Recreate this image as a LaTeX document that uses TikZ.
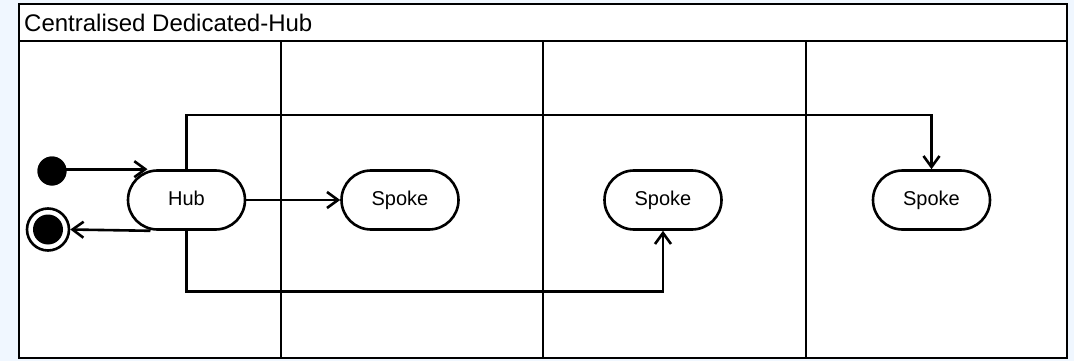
\documentclass[tikz,border=0pt]{standalone}
\usepackage{fontspec}
\setmainfont{Liberation Sans}
\usetikzlibrary{arrows.meta,calc}
\definecolor{bgblue}{RGB}{240,247,255}
\tikzset{
  lane/.style={draw=black,line width=2.6pt},
  action/.style={draw=black,line width=2.6pt,fill=white,rectangle,rounded corners=29.5pt,minimum width=117pt,minimum height=59pt,inner sep=0pt,text height=14.5pt,text depth=3pt,font=\fontsize{20}{22}\selectfont},
  arr/.style={draw=black,line width=2.6pt,-{Straight Barb[length=11pt,width=16pt,line width=2.6pt]}},
  startdot/.style={circle,fill=black,minimum size=29pt,inner sep=0pt},
  enddot/.style={circle,draw=black,line width=2.6pt,fill=white,minimum size=42pt,inner sep=0pt},
}
\begin{document}
\begin{tikzpicture}[x=1pt,y=-1pt]
\fill[bgblue] (0,0) rectangle (1074,361);
\useasboundingbox (0,0) rectangle (1074,361);
% frame
\fill[white] (19,4) rectangle (1067,358);
\draw[lane] (19,4) rectangle (1067,358);
\draw[lane] (19,41) -- (1067,41);
\node[anchor=west,inner sep=0pt,font=\fontsize{24}{28}\selectfont] (title) at (24,23) {Centralised Dedicated-Hub};
\draw[lane] (281,41) -- (281,358);
\draw[lane] (543,41) -- (543,358);
\draw[lane] (806,41) -- (806,358);
% nodes
\node[action] (hub) at (186.5,200) {Hub};
\node[action] (s1) at (400,200) {Spoke};
\node[action] (s2) at (663,200) {Spoke};
\node[action] (s3) at (931.5,200) {Spoke};
\node[startdot] (start) at (52,171) {};
\node[enddot] (final) at (48,229.5) {};
\fill[black] (final.center) circle[radius=15pt];
\coordinate (topy) at (0,115);
\coordinate (boty) at (0,291.5);
% connectors
\draw[arr] (start.center |- hub.north) -- ($(hub.north)+(-39,0)$);
\draw[arr] ($(hub.south)+(-36,0)$) -- (final.east);
\draw[arr] (hub.east) -- (s1.west);
\draw[arr] (hub.north) -- (hub.north |- topy) -- (s3.north |- topy) -- (s3.north);
\draw[arr] (hub.south) -- (hub.south |- boty) -- (s2.south |- boty) -- (s2.south);
\fill[black] (start) circle[radius=14.5pt];
\end{tikzpicture}
\end{document}
